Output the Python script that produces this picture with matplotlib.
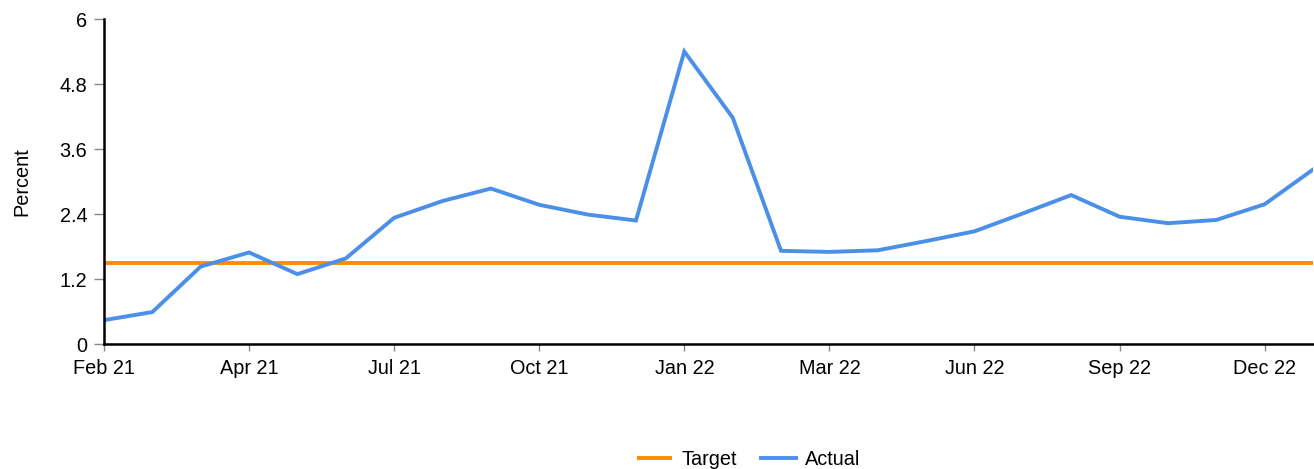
import numpy as np
import matplotlib.pyplot as plt

# 圖表資料
TICK_LABELS = ['Feb 21', 'Apr 21', 'Jul 21', 'Oct 21', 'Jan 22',
               'Mar 22', 'Jun 22', 'Sep 22', 'Dec 22']
ACTUAL = [0.44, 0.59, 1.43, 1.69, 1.29, 1.58, 2.33, 2.64, 2.87, 2.57,
          2.39, 2.28, 5.40, 4.18, 1.72, 1.70, 1.73, 1.90, 2.08, 2.41,
          2.75, 2.35, 2.23, 2.29, 2.58, 3.22]
TARGET = 1.5
Y_TICKS = [0, 1.2, 2.4, 3.6, 4.8, 6]
Y_TICK_LABELS = ['0', '1.2', '2.4', '3.6', '4.8', '6']

ORANGE = '#FF8C00'
BLUE = '#4A8FE8'
FS = 14.3


def main():
    plt.rcParams['font.family'] = ['Liberation Sans', 'DejaVu Sans']
    fig = plt.figure(figsize=(13.14, 4.69), dpi=100)
    ax = fig.add_axes([104 / 1314, 1 - 344 / 469, 1209 / 1314, 325 / 469])

    x = np.arange(len(ACTUAL))
    ax.plot([x[0], x[-1]], [TARGET, TARGET], color=ORANGE, lw=2.8,
            label='Target', solid_capstyle='butt')
    ax.plot(x, ACTUAL, color=BLUE, lw=2.8, label='Actual',
            solid_joinstyle='miter')

    ax.set_xlim(0, len(ACTUAL) - 1)
    ax.set_ylim(0, 6)
    ax.set_xticks(x[::3])
    ax.set_xticklabels(TICK_LABELS, fontsize=FS)
    ax.set_yticks(Y_TICKS)
    ax.set_yticklabels(Y_TICK_LABELS, fontsize=FS)
    ax.set_ylabel('Percent', fontsize=FS, labelpad=20)

    for s in ['top', 'right']:
        ax.spines[s].set_visible(False)
    for s in ['left', 'bottom']:
        ax.spines[s].set_linewidth(1.8)
        ax.spines[s].set_color('black')
    ax.tick_params(axis='y', length=7, width=1, color='#888888', pad=5)
    ax.tick_params(axis='x', length=5, width=1, color='#888888', pad=6)

    fig.legend(loc='center', bbox_to_anchor=(749 / 1314, 1 - 459 / 469),
               ncol=2, frameon=False, fontsize=FS, handlelength=1.76,
               columnspacing=1.25, handletextpad=0.45)
    fig.savefig('out.png', dpi=100)


if __name__ == '__main__':
    main()
